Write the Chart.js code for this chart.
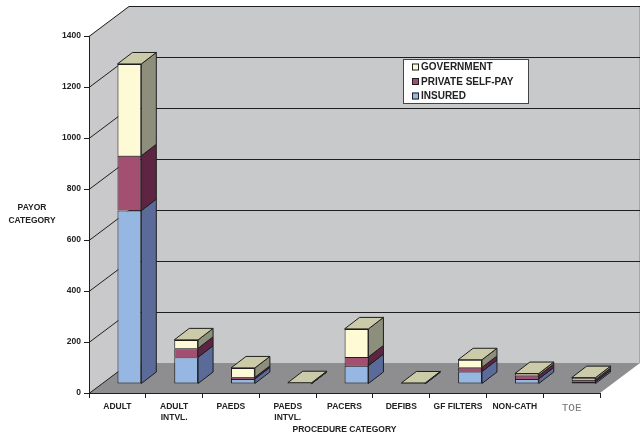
<!DOCTYPE html>
<html>
<head>
<meta charset="utf-8">
<script src="https://cdn.jsdelivr.net/npm/chart.js@4"></script>
<style>
  html, body { margin: 0; padding: 0; background: #fff; }
  #wrap { width: 644px; height: 438px; }
</style>
</head>
<body>
<div id="wrap"><canvas id="payorChart" width="644" height="438"></canvas></div>
<script>
// procedure categories along the floor
const categories = ['ADULT', ['ADULT', 'INTVL.'], 'PAEDS', ['PAEDS', 'INTVL.'], 'PACERS', 'DEFIBS', 'GF FILTERS', 'NON-CATH', 'TOE'];

// counts per payor, stacked bottom to top
const insured        = [680, 105, 20, 2, 72, 1, 49, 20, 9];
const privateSelfPay = [215,  35,  6, 1, 34, 2, 16, 13, 8];
const government     = [360,  33, 37, 2, 110, 1, 30,  8, 8];

const yTicks = [0, 200, 400, 600, 800, 1000, 1200, 1400];

// 3d look
const WALL_DX = 40, WALL_DY = -30;   // depth of the box
const BAR_OX = 12, BAR_OY = -9;      // bars stand a little behind the front plane
const BAR_DX = 15, BAR_DY = -11.5;   // depth of each bar
const TOP_COLOR = '#cbcaa9';
const EDGE = '#1e1e1e';

Chart.defaults.font.family = '"Liberation Sans", Arial, sans-serif';

function poly(ctx, pts, fill) {
    ctx.beginPath();
    ctx.moveTo(pts[0][0], pts[0][1]);
    for (let i = 1; i < pts.length; i++) ctx.lineTo(pts[i][0], pts[i][1]);
    ctx.closePath();
    if (fill) { ctx.fillStyle = fill; ctx.fill(); }
}

const box3d = {
    id: 'box3d',
    beforeDraw(chart) {
        const { ctx, chartArea: a, scales: { y } } = chart;
        ctx.save();
        // floor
        poly(ctx, [[a.left, a.bottom], [a.left + WALL_DX, a.bottom + WALL_DY],
                   [a.right + WALL_DX, a.bottom + WALL_DY], [a.right, a.bottom]], '#8e8e90');
        // left wall
        poly(ctx, [[a.left, a.top], [a.left + WALL_DX, a.top + WALL_DY],
                   [a.left + WALL_DX, a.bottom + WALL_DY], [a.left, a.bottom]], '#c9c9cb');
        // back wall
        ctx.fillStyle = '#c8c9cb';
        ctx.fillRect(a.left + WALL_DX, a.top + WALL_DY, a.right - a.left, a.bottom - a.top);
        ctx.strokeStyle = '#a6a6a8';
        ctx.lineWidth = 1;
        ctx.beginPath();
        ctx.moveTo(a.right + WALL_DX - 0.5, a.top + WALL_DY);
        ctx.lineTo(a.right + WALL_DX - 0.5, a.bottom + WALL_DY);
        ctx.stroke();

        // grid lines run across the left wall and the back wall
        ctx.strokeStyle = EDGE;
        y.ticks.forEach(t => {
            const py = Math.round(y.getPixelForValue(t.value)) + 0.5;
            ctx.beginPath();
            ctx.moveTo(a.left, py);
            ctx.lineTo(a.left + WALL_DX, py + WALL_DY);
            if (t.value > 0) ctx.lineTo(a.right + WALL_DX, py + WALL_DY);
            ctx.stroke();
        });

        // y axis caption
        ctx.fillStyle = '#222';
        ctx.font = 'bold 8.5px "Liberation Sans", Arial, sans-serif';
        ctx.textAlign = 'center';
        ctx.textBaseline = 'middle';
        ctx.fillText('PAYOR', 32, 208);
        ctx.fillText('CATEGORY', 32, 221);
        ctx.restore();
    },
    beforeDatasetsDraw(chart) {
        chart.ctx.save();
        chart.ctx.translate(BAR_OX, BAR_OY);
    },
    afterDatasetsDraw(chart) {
        const ctx = chart.ctx;
        ctx.strokeStyle = EDGE;
        ctx.lineWidth = 1;
        ctx.lineJoin = 'round';
        const n = chart.data.datasets.length;
        // side faces of every segment
        for (let i = 0; i < n; i++) {
            const side = chart.data.datasets[i].sideColor;
            chart.getDatasetMeta(i).data.forEach(bar => {
                const { x, y, base, width } = bar.getProps(['x', 'y', 'base', 'width'], true);
                const xr = x + width / 2;
                poly(ctx, [[xr, y], [xr + BAR_DX, y + BAR_DY], [xr + BAR_DX, base + BAR_DY], [xr, base]], side);
                ctx.stroke();
            });
        }
        // lid on top of each stack
        chart.getDatasetMeta(n - 1).data.forEach(bar => {
            const { x, y, width } = bar.getProps(['x', 'y', 'width'], true);
            const xl = x - width / 2, xr = x + width / 2;
            poly(ctx, [[xl, y], [xl + BAR_DX, y + BAR_DY], [xr + BAR_DX, y + BAR_DY], [xr, y]], TOP_COLOR);
            ctx.stroke();
        });
        ctx.restore();
    },
    afterDraw(chart) {
        // legend box, top series first
        const ctx = chart.ctx;
        const ds = chart.data.datasets.slice().reverse();
        const lx = 403, ly = 59, lw = 126, lh = 45;
        ctx.save();
        ctx.fillStyle = '#fff';
        ctx.fillRect(lx, ly, lw, lh);
        ctx.strokeStyle = '#444';
        ctx.lineWidth = 1;
        ctx.strokeRect(lx + 0.5, ly + 0.5, lw - 1, lh - 1);
        ctx.font = 'bold 10px "Liberation Sans", Arial, sans-serif';
        ctx.textBaseline = 'middle';
        ds.forEach((d, k) => {
            const cy = ly + 8 + k * 14.5;
            ctx.fillStyle = d.backgroundColor;
            ctx.fillRect(lx + 9, cy - 3.5, 7, 7);
            ctx.strokeStyle = EDGE;
            ctx.strokeRect(lx + 9.5, cy - 3, 6, 6);
            ctx.fillStyle = '#222';
            ctx.fillText(d.label, lx + 18, cy + 0.5);
        });
        ctx.restore();
    }
};

new Chart(document.getElementById('payorChart'), {
    type: 'bar',
    data: {
        labels: categories,
        datasets: [
            { label: 'INSURED', data: insured, backgroundColor: '#96b7e1', sideColor: '#5b6b99', borderSkipped: false },
            { label: 'PRIVATE SELF-PAY', data: privateSelfPay, backgroundColor: '#a34f72', sideColor: '#5e2542' },
            { label: 'GOVERNMENT', data: government, backgroundColor: '#fffad6', sideColor: '#8d8f7c' }
        ]
    },
    options: {
        responsive: false,
        animation: false,
        devicePixelRatio: 1,
        layout: { padding: { top: 36, right: 44, left: 0, bottom: 0 } },
        datasets: {
            bar: {
                barPercentage: 1,
                categoryPercentage: 0.42,
                borderWidth: 1,
                borderColor: EDGE,
                clip: false
            }
        },
        plugins: {
            legend: { display: false },
            tooltip: { enabled: false }
        },
        scales: {
            x: {
                stacked: true,
                afterFit(scale) { scale.height = 45; },
                grid: { drawOnChartArea: false, drawTicks: true, tickLength: 5, color: EDGE, offset: true },
                border: { display: true, color: EDGE, width: 1 },
                ticks: {
                    autoSkip: false,
                    maxRotation: 0,
                    padding: 3,
                    color: c => (c.index === 8 ? '#777' : '#222'),
                    font: c => (c.index === 8
                        ? { family: '"Liberation Mono", "Courier New", monospace', size: 11, weight: 'normal', lineHeight: 1.2 }
                        : { size: 8.5, weight: 'bold', lineHeight: 1.3 })
                },
                title: {
                    display: true,
                    text: 'PROCEDURE CATEGORY',
                    color: '#222',
                    font: { size: 8.5, weight: 'bold' },
                    padding: { top: 0, bottom: 3 }
                }
            },
            y: {
                stacked: true,
                min: yTicks[0],
                max: yTicks[yTicks.length - 1],
                afterFit(scale) { scale.width = 89; },
                afterBuildTicks(scale) { scale.ticks = yTicks.map(v => ({ value: v })); },
                grid: { drawOnChartArea: false, drawTicks: true, tickLength: 5, color: EDGE },
                border: { display: true, color: EDGE, width: 1 },
                ticks: {
                    padding: 3,
                    color: '#222',
                    font: { size: 8.5, weight: 'bold' },
                    callback: v => String(v)
                }
            }
        }
    },
    plugins: [box3d]
});
</script>
</body>
</html>
